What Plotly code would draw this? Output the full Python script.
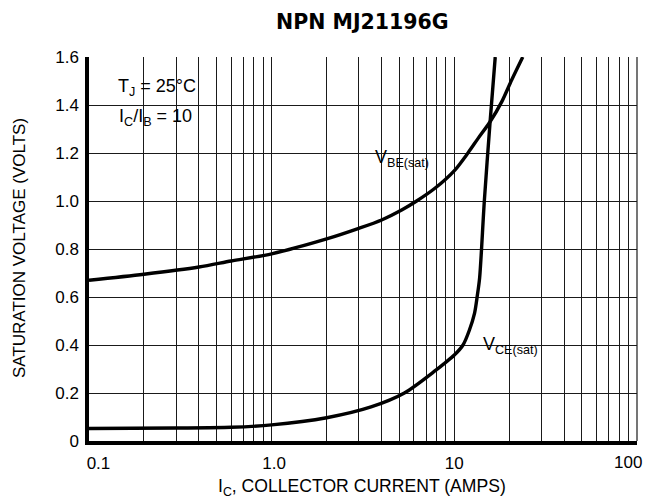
import plotly.graph_objects as go

# Data
ic_vbe = [0.1, 0.2, 0.4, 0.6, 1.0, 2.0, 3.0, 4.0, 5.15, 6.22, 7.83, 10.07, 11.9, 13.5, 15.7, 18.2, 20.6, 23.7]
vbe_sat = [0.67, 0.695, 0.725, 0.75, 0.78, 0.842, 0.886, 0.921, 0.9625, 1.0, 1.053, 1.129, 1.201, 1.261, 1.33, 1.414, 1.504, 1.6]

ic_vce = [0.1, 0.3, 0.6, 1.0, 2.0, 3.5, 5.33, 7.96, 8.85, 10.0, 11.16, 12.1, 12.9, 13.36, 13.76, 14.6, 15.7, 16.75]
vce_sat = [0.052, 0.054, 0.057, 0.067, 0.097, 0.142, 0.2, 0.296, 0.324, 0.358, 0.40, 0.4625, 0.532, 0.605, 0.68, 1.0, 1.33, 1.6]

NB = "\u00a0"
x_major = [0.1, 1, 10]
x_major_text = [NB * 4 + "0.1", NB + "1.0", "10"]
x_last_label = "100"
x_minor = [m * 10 ** e for e in (-1, 0, 1) for m in range(2, 10)]
y_ticks = [0, 0.2, 0.4, 0.6, 0.8, 1.0, 1.2, 1.4, 1.6]
y_labels = ["0", "0.2", "0.4", "0.6", "0.8", "1.0", "1.2", "1.4", "1.6"]

FONT = "Liberation Sans, Arial, sans-serif"
OFF = 8                      # page body margin
W, H = 651 - OFF, 499 - OFF
X0, X1, Y0, Y1 = 89, 637, 57, 441   # plot area in screen pixels
L, T = X0 - OFF, Y0 - OFF
R, B = W + OFF - X1, H + OFF - Y1


def px(xs):
    return (xs - X0) / (X1 - X0)


def py(ys):
    return (Y1 - ys) / (Y1 - Y0)


GRID = "#1a1a1a"
fig = go.Figure()
for xs, ys in ((ic_vbe, vbe_sat), (ic_vce, vce_sat)):
    fig.add_trace(go.Scatter(x=xs, y=ys, mode="lines",
                             line=dict(color="black", width=3.4, shape="spline", smoothing=0.8),
                             showlegend=False, hoverinfo="skip"))

fig.update_layout(
    width=W, height=H,
    margin=dict(l=L, r=R, t=T, b=B, autoexpand=False),
    paper_bgcolor="white", plot_bgcolor="white",
    font=dict(family=FONT, size=17, color="black"),
    xaxis=dict(type="log", range=[-1, 2.0002], tickvals=x_major, ticktext=x_major_text,
               showgrid=True, gridcolor=GRID, gridwidth=1,
               minor=dict(tickvals=x_minor, showgrid=True, gridcolor=GRID, gridwidth=1, ticks=""),
               showline=True, linecolor="black", linewidth=3.5,
               ticks="", zeroline=False, automargin=False, ticklabelstandoff=4,
               ticklabeloverflow="allow", tickfont=dict(size=17)),
    yaxis=dict(range=[0, 1.6], tickvals=y_ticks, ticktext=y_labels,
               showgrid=True, gridcolor=GRID, gridwidth=1,
               showline=True, linecolor="black", linewidth=3.5,
               ticks="", zeroline=False, automargin=False, ticklabelstandoff=3,
               ticklabeloverflow="allow", tickfont=dict(size=17)),
)

# right frame line (100 A gridline at the plot edge)
fig.add_shape(type="line", xref="paper", yref="paper", x0=1, x1=1, y0=0, y1=1,
              line=dict(color=GRID, width=1.2), layer="between")

# white label backgrounds (between grid and curves)
for (x0, x1, y0, y1) in ((110, 205, 135, 73), (357, 443, 175, 140), (467, 557, 367, 325)):
    fig.add_shape(type="rect", xref="paper", yref="paper",
                  x0=px(x0), x1=px(x1), y0=py(y0), y1=py(y1),
                  fillcolor="white", line=dict(width=0), layer="between")

# last x tick label, kept inside the page
fig.add_annotation(xref="paper", yref="paper", x=px(628), y=py(462),
                   text=x_last_label, showarrow=False,
                   xanchor="center", yanchor="middle", font=dict(size=17))

# title
fig.add_annotation(xref="paper", yref="paper", x=px(362), y=py(22),
                   text="<b>NPN MJ21196G</b>", showarrow=False,
                   xanchor="center", yanchor="middle",
                   font=dict(family="DejaVu Sans", size=20.5))
# axis titles
fig.add_annotation(xref="paper", yref="paper", x=px(362), y=py(487),
                   text="I<sub>C</sub>, COLLECTOR CURRENT (AMPS)", showarrow=False,
                   xanchor="center", yanchor="middle", font=dict(size=17.6))
fig.add_annotation(xref="paper", yref="paper", x=px(19), y=py(248),
                   text="SATURATION VOLTAGE (VOLTS)", showarrow=False, textangle=-90,
                   xanchor="center", yanchor="middle", font=dict(size=17))
# labels
fig.add_annotation(xref="paper", yref="paper", x=px(116), y=py(88),
                   text="T<sub>J</sub> = 25°C", showarrow=False,
                   xanchor="left", yanchor="middle", font=dict(size=18))
fig.add_annotation(xref="paper", yref="paper", x=px(117), y=py(117),
                   text="I<sub>C</sub>/I<sub>B</sub> = 10", showarrow=False,
                   xanchor="left", yanchor="middle", font=dict(size=18))
fig.add_annotation(xref="paper", yref="paper", x=px(373), y=py(158),
                   text="V<sub>BE(sat)</sub>", showarrow=False,
                   xanchor="left", yanchor="middle", font=dict(size=18))
fig.add_annotation(xref="paper", yref="paper", x=px(481), y=py(345),
                   text="V<sub>CE(sat)</sub>", showarrow=False,
                   xanchor="left", yanchor="middle", font=dict(size=18))

fig.write_html("out.html")
